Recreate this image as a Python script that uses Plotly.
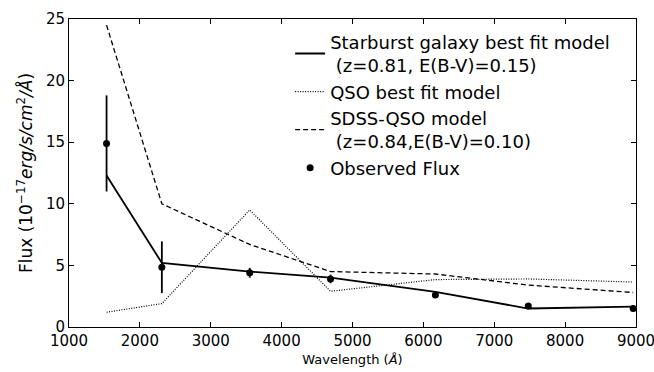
import plotly.graph_objects as go

wavelength = [1530, 2310, 3550, 4690, 6170, 7480, 8960]
observed = [14.9, 4.85, 4.4, 3.9, 2.6, 1.7, 1.5]
observed_err = [3.9, 2.1, 0.4, 0.35, 0.2, 0.15, 0.1]
starburst = [12.3, 5.2, 4.5, 4.0, 2.85, 1.5, 1.65]
qso = [1.2, 1.9, 9.5, 2.9, 3.85, 3.9, 3.65]
sdss = [24.5, 10.0, 6.7, 4.5, 4.3, 3.4, 2.8]

x_ticks = [1000, 2000, 3000, 4000, 5000, 6000, 7000, 8000, 9000]
y_ticks = [0, 5, 10, 15, 20, 25]

font = "DejaVu Sans, sans-serif"

fig = go.Figure()
fig.add_trace(go.Scatter(x=wavelength, y=starburst, mode="lines",
                         line=dict(color="black", width=1.8),
                         name="Starburst galaxy best fit model<br> (z=0.81, E(B-V)=0.15)"))
fig.add_trace(go.Scatter(x=wavelength, y=qso, mode="lines",
                         line=dict(color="black", width=1.2, dash="1px,1.5px"),
                         name="QSO best fit model"))
fig.add_trace(go.Scatter(x=wavelength, y=sdss, mode="lines",
                         line=dict(color="black", width=1.3, dash="5px,3px"),
                         name="SDSS-QSO model<br> (z=0.84,E(B-V)=0.10)"))
fig.add_trace(go.Scatter(x=wavelength, y=observed, mode="markers",
                         marker=dict(color="black", size=7),
                         error_y=dict(type="data", array=observed_err, color="black",
                                      thickness=1.8, width=0),
                         name="Observed Flux"))

axis_common = dict(showgrid=False, zeroline=False, showline=True, linecolor="black",
                   linewidth=1, mirror="ticks", ticks="inside", ticklen=5,
                   tickcolor="black", ticklabeloverflow="allow", automargin=False,
                   tickfont=dict(family=font, size=15, color="black"))

fig.update_xaxes(range=[1000, 9000], tickvals=x_ticks, **axis_common,
                 title=dict(text="Wavelength (<i>Å</i>)", font=dict(family=font, size=13, color="black"),
                            standoff=5))
fig.update_yaxes(range=[0, 25], tickvals=y_ticks, **axis_common,
                 title=dict(text="Flux (10<sup>−17</sup><i>erg/s/cm</i><sup>2</sup><i>/Å</i>)",
                            font=dict(family=font, size=17, color="black"), standoff=8))

fig.update_layout(
    width=654, height=372,
    margin=dict(l=69, r=18, t=19, b=45),
    paper_bgcolor="white", plot_bgcolor="white",
    showlegend=True,
    legend=dict(x=0.39, y=0.985, xanchor="left", yanchor="top",
                bgcolor="rgba(0,0,0,0)", font=dict(family=font, size=18, color="black"),
                tracegroupgap=0),
)

fig.write_html("out.html")
